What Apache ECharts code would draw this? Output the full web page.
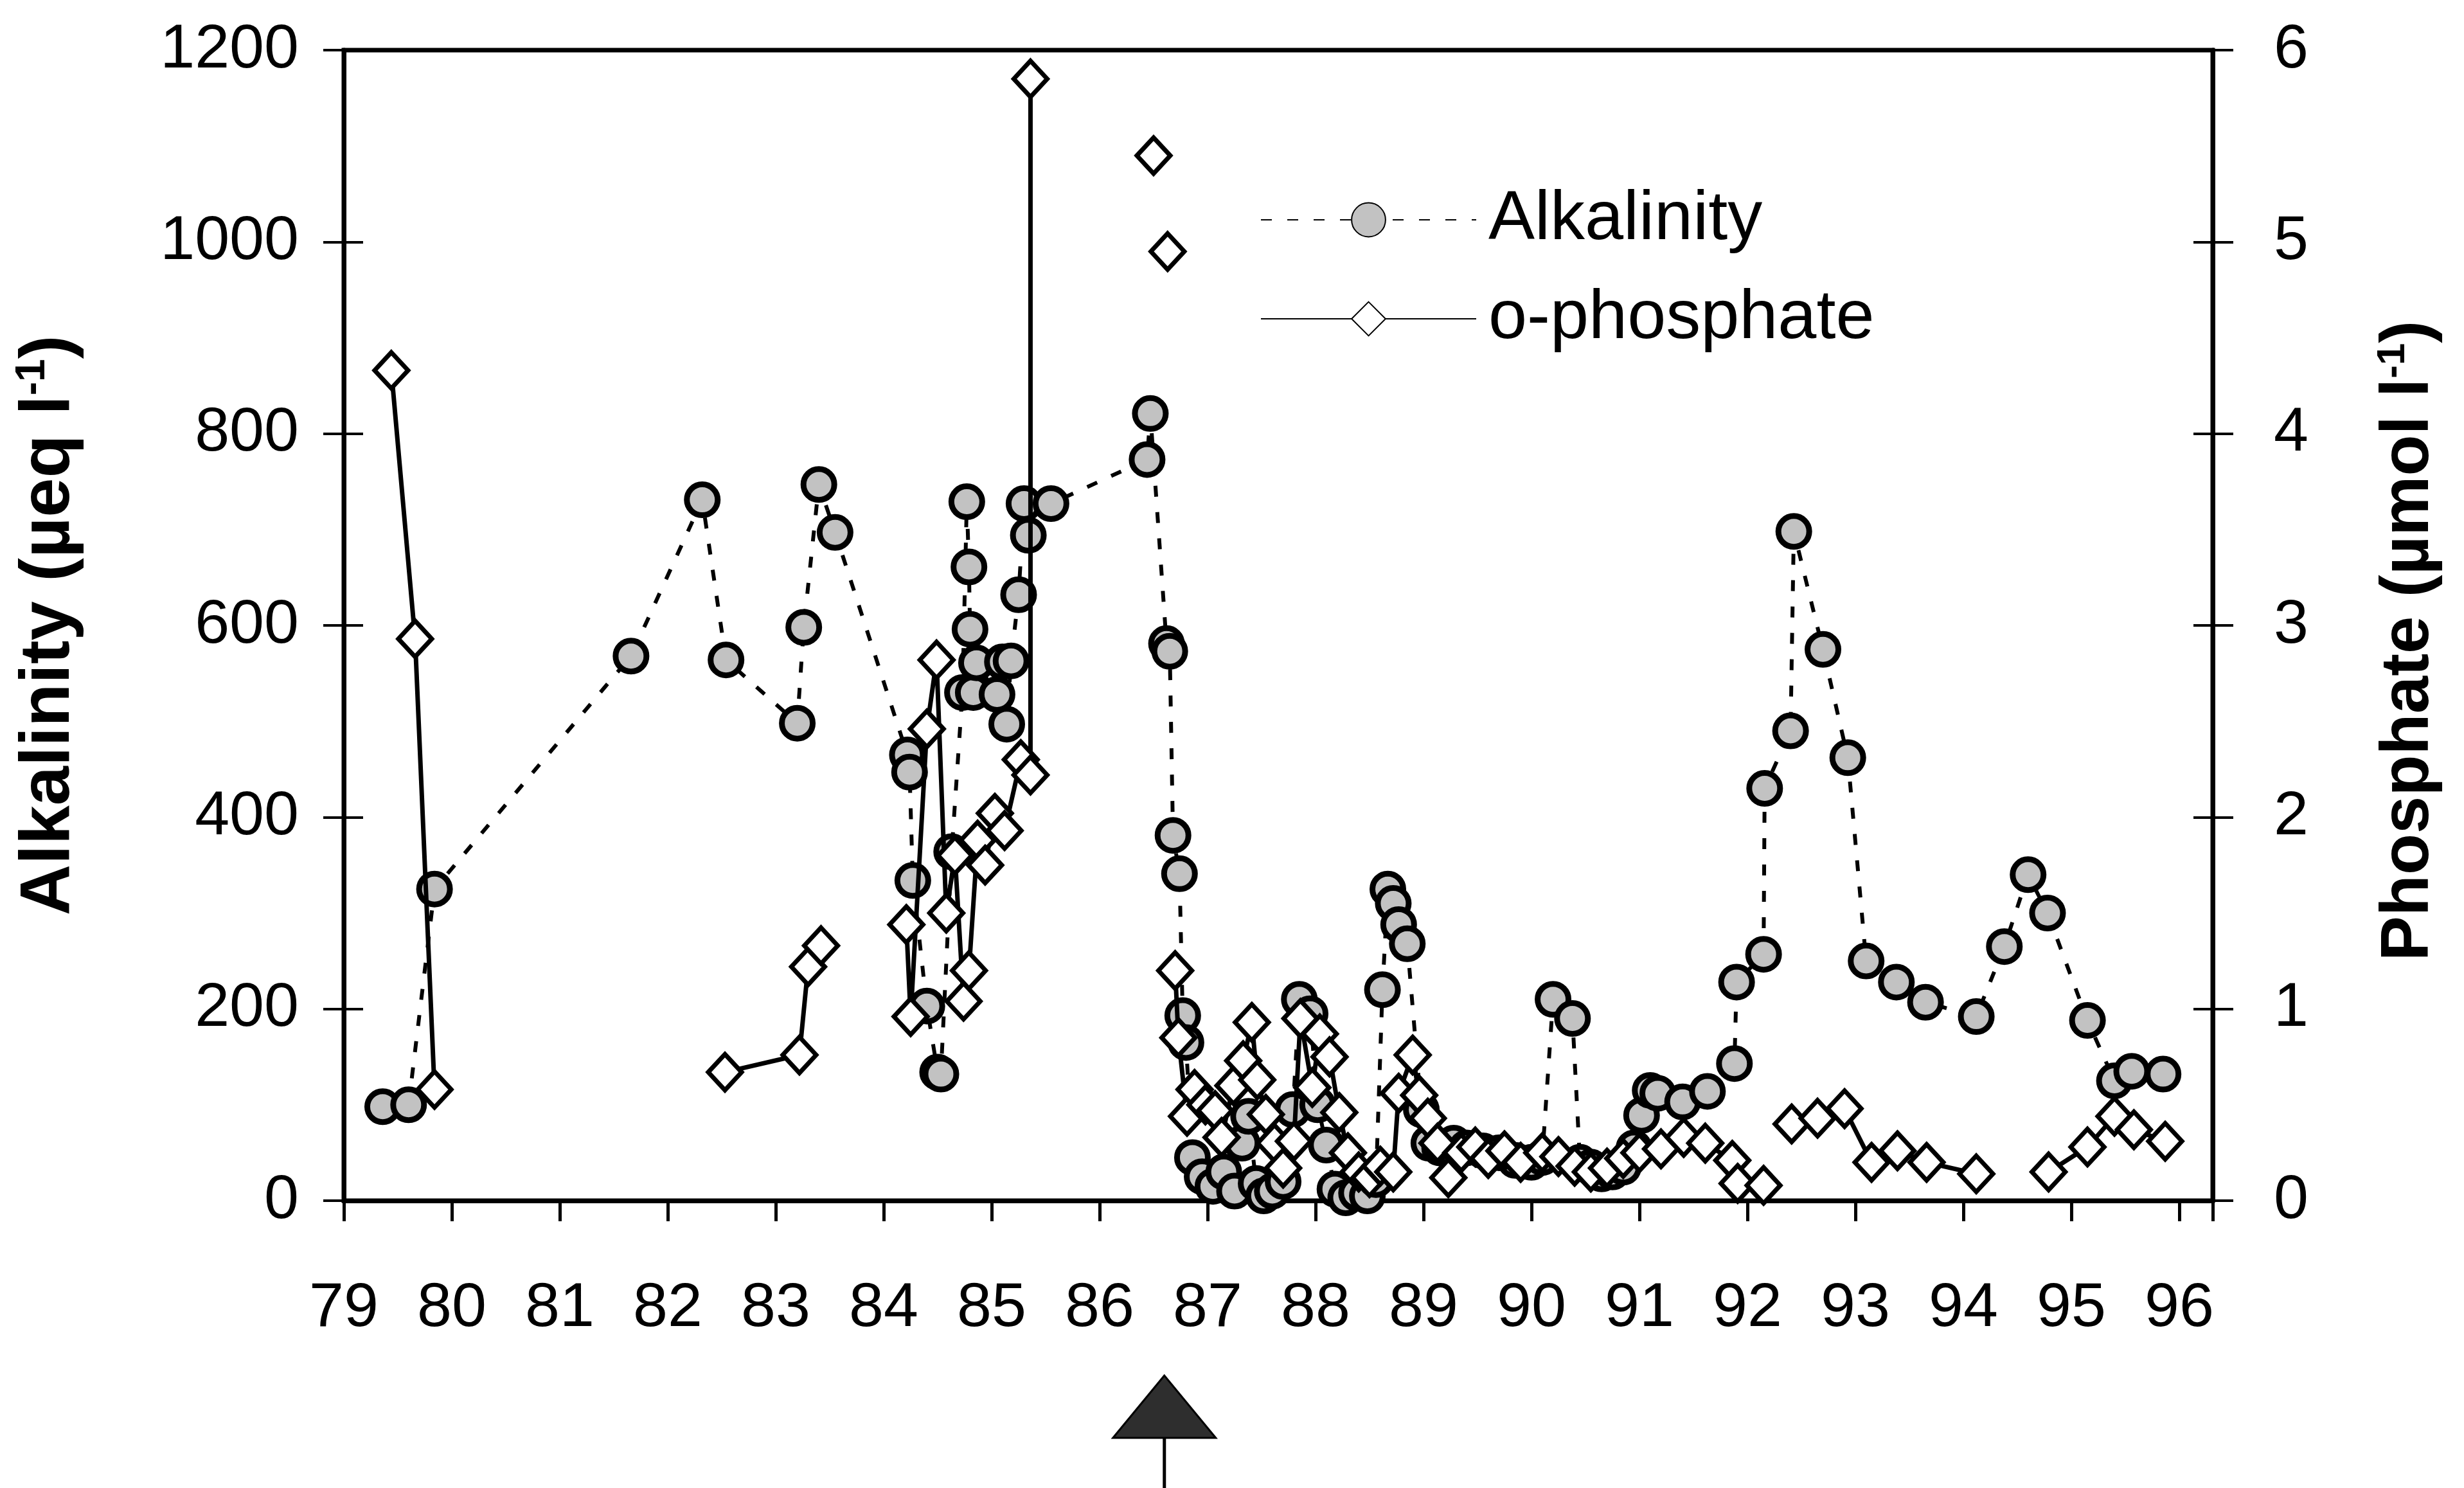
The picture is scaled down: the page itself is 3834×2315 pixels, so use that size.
<!DOCTYPE html>
<html>
<head>
<meta charset="utf-8">
<script src="https://cdn.jsdelivr.net/npm/echarts@6/dist/echarts.min.js"></script>
<style>
html,body{margin:0;padding:0;background:#ffffff;}
#chart{width:3834px;height:2315px;}
</style>
</head>
<body>
<div id="chart"></div>
<script>
// ---- tick labels ----
const xTickLabels = ['79','80','81','82','83','84','85','86','87','88','89','90','91','92','93','94','95','96'];
const leftTickLabels = ['0','200','400','600','800','1000','1200'];
const rightTickLabels = ['0','1','2','3','4','5','6'];
const seriesNames = ['Alkalinity', 'o-phosphate'];

// ---- Alkalinity (µeq l-1) ----
const alkYears = [79.36,79.60,79.84,81.66,82.32,82.54,83.20,83.26,83.40,83.55,
  84.22,84.24,84.27,84.40,84.50,84.53,84.63,84.73,84.77,84.79,
  84.80,84.83,84.86,85.05,85.10,85.14,85.18,85.25,85.30,85.34,
  85.55,86.44,86.47,86.62,86.65,86.68,86.74,86.77,86.80,86.86,
  86.95,87.05,87.15,87.25,87.32,87.38,87.45,87.52,87.60,87.70,
  87.79,87.85,87.95,88.02,88.10,88.18,88.28,88.38,88.48,88.56,
  88.62,88.67,88.72,88.77,88.85,88.98,89.05,89.15,89.28,89.40,
  89.55,89.70,89.85,90.00,90.10,90.20,90.38,90.45,90.55,90.65,
  90.75,90.85,90.95,91.02,91.10,91.17,91.40,91.63,91.88,91.90,
  92.15,92.16,92.40,92.43,92.70,92.93,93.10,93.38,93.65,94.12,
  94.38,94.60,94.78,95.15,95.40,95.56,95.85];
const alkValues = [98,100,325,568,731,564,498,598,747,697,
  465,447,334,203,134,132,364,530,729,661,
  596,530,561,528,562,497,563,632,727,694,
  727,773,821,581,573,381,341,193,165,45,
  25,15,30,10,60,88,18,5,10,20,
  95,210,195,100,58,12,3,8,5,22,
  220,325,310,288,268,95,60,55,60,55,
  52,50,42,40,45,210,190,40,35,28,
  30,35,55,89,115,112,103,114,143,228,
  257,430,490,698,575,462,250,228,207,192,
  265,340,300,188,125,135,132];

// ---- o-phosphate (µmol l-1); null = no connecting line ----
const phosYears = [79.44,79.66,79.84,81.00,82.53,83.22,83.30,83.42,83.80,
  84.21,84.25,84.40,84.49,84.58,84.66,84.74,84.79,84.87,84.94,
  85.03,85.12,85.27,85.36,85.36,86.00,86.50,86.57,86.63,86.66,
  86.70,86.73,86.81,86.88,86.98,87.07,87.13,87.24,87.33,87.41,
  87.46,87.54,87.62,87.70,87.80,87.86,87.97,88.04,88.13,88.22,
  88.30,88.40,88.50,88.60,88.72,88.77,88.90,88.96,89.04,89.13,
  89.23,89.35,89.48,89.60,89.75,89.90,90.10,90.25,90.40,90.55,
  90.70,90.85,91.00,91.20,91.41,91.61,91.86,91.91,92.15,92.30,
  92.41,92.65,92.90,93.15,93.39,93.66,94.12,94.50,
  94.79,95.15,95.40,95.58,95.87];
const phosValues = [4.33,2.93,0.58,null,0.67,0.76,1.22,1.33,null,
  1.44,0.96,2.46,2.82,1.50,1.80,1.04,1.20,1.88,1.75,
  2.02,1.93,2.30,2.22,5.85,null,5.45,null,4.95,null,
  1.20,0.85,0.44,0.58,0.50,0.47,0.33,0.60,0.73,0.93,
  0.63,0.45,0.30,0.17,0.31,0.95,0.59,0.87,0.75,0.46,
  0.25,0.15,0.12,0.18,0.15,0.56,0.76,0.55,0.43,0.30,
  0.12,0.25,0.28,0.22,0.26,0.20,0.25,0.23,0.18,0.15,
  0.17,0.22,0.25,0.27,0.33,0.30,0.21,0.09,0.08,null,
  0.40,0.43,0.48,0.20,0.26,0.20,0.14,null,
  0.15,0.28,0.44,0.37,0.31];

// ---- event marker year (arrow under the axis) ----
const eventYear = 86.6;

const FONT = '"Liberation Sans", Arial, Helvetica, sans-serif';

const alkData = alkYears.map((x, i) => [x, alkValues[i]]);
const phosData = phosYears.map((x, i) => [x, phosValues[i] === null ? '-' : phosValues[i]]);

const chart = echarts.init(document.getElementById('chart'), null, {renderer: 'canvas'});

const axisLineStyle = {color: '#000', width: 7};

const option = {
  animation: false,
  backgroundColor: '#ffffff',
  grid: {left: 535, right: 391, top: 78, bottom: 447, show: true, borderColor: '#000', borderWidth: 7, backgroundColor: 'transparent'},
  legend: {
    data: seriesNames,
    orient: 'vertical',
    left: 1956,
    top: 283,
    itemWidth: 335,
    itemHeight: 66,
    itemGap: 46,
    textStyle: {fontSize: 108, color: '#000', fontFamily: FONT, padding: [0, 0, 0, 14]}
  },
  xAxis: {
    type: 'value',
    min: 79, max: 96.31, interval: 1,
    axisLine: {show: true, lineStyle: axisLineStyle},
    axisTick: {show: true, inside: false, length: 32, lineStyle: {color: '#000', width: 5}},
    axisLabel: {
      fontSize: 97, color: '#000', fontFamily: FONT, margin: 120,
      formatter: v => {
        const k = Math.round(v - 79);
        return (Math.abs(v - 79 - k) < 1e-6 && xTickLabels[k] !== undefined) ? xTickLabels[k] : '';
      }
    },
    splitLine: {show: false}
  },
  yAxis: [
    {
      type: 'value', position: 'left', min: 0, max: 1200, interval: 200,
      axisLine: {show: true, lineStyle: axisLineStyle},
      axisTick: {show: true, inside: false, length: 32, lineStyle: {color: '#000', width: 4}},
      axisLabel: {fontSize: 97, color: '#000', fontFamily: FONT, margin: 70,
        formatter: v => leftTickLabels[Math.round(v / 200)]},
      splitLine: {show: false},
      name: '{t|Alkalinity (µeq l}{s|-1}{t|)}',
      nameLocation: 'middle', nameRotate: 90, nameGap: 400,
      nameTextStyle: {rich: {
        t: {fontSize: 110, fontWeight: 'bold', fontFamily: FONT, color: '#000'},
        s: {fontSize: 64, fontWeight: 'bold', fontFamily: FONT, color: '#000', padding: [0, 0, 52, 0]}
      }}
    },
    {
      type: 'value', position: 'right', min: 0, max: 6, interval: 1,
      axisLine: {show: true, lineStyle: axisLineStyle},
      axisTick: {show: true, inside: false, length: 32, lineStyle: {color: '#000', width: 4}},
      axisLabel: {fontSize: 97, color: '#000', fontFamily: FONT, margin: 95,
        formatter: v => rightTickLabels[Math.round(v)]},
      splitLine: {show: false},
      name: '{t|Phosphate (µmol l}{s|-1}{t|)}',
      nameLocation: 'middle', nameRotate: 90, nameGap: 250,
      nameTextStyle: {padding: [0, 48, 0, 0], rich: {
        t: {fontSize: 105, fontWeight: 'bold', fontFamily: FONT, color: '#000'},
        s: {fontSize: 62, fontWeight: 'bold', fontFamily: FONT, color: '#000', padding: [0, 0, 50, 0]}
      }}
    },
    {
      type: 'value', position: 'left', min: 0, max: 1200, interval: 200,
      axisLine: {show: false},
      axisTick: {show: true, inside: true, length: 30, lineStyle: {color: '#000', width: 4}},
      axisLabel: {show: false}, splitLine: {show: false}
    },
    {
      type: 'value', position: 'right', min: 0, max: 6, interval: 1,
      axisLine: {show: false},
      axisTick: {show: true, inside: true, length: 30, lineStyle: {color: '#000', width: 4}},
      axisLabel: {show: false}, splitLine: {show: false}
    }
  ],
  series: [
    {
      name: seriesNames[0], type: 'line', yAxisIndex: 0, data: alkData,
      symbol: 'circle', symbolSize: 48, showSymbol: true, showAllSymbol: true,
      itemStyle: {color: '#c2c2c2', borderColor: '#000', borderWidth: 9},
      lineStyle: {color: '#000', width: 6, type: [17, 24]},
      z: 2
    },
    {
      name: seriesNames[1], type: 'line', yAxisIndex: 1, data: phosData,
      symbol: 'diamond', symbolSize: [52, 56], showSymbol: true, showAllSymbol: true,
      connectNulls: false,
      itemStyle: {color: '#ffffff', borderColor: '#000', borderWidth: 7},
      lineStyle: {color: '#000', width: 7},
      z: 3
    }
  ]
};

chart.setOption(option);

// event arrow below the time axis, placed through the x scale
const px = chart.convertToPixel({xAxisIndex: 0}, eventYear);
chart.setOption({
  graphic: [
    {type: 'polygon', shape: {points: [[px, 2140], [px - 80, 2237], [px + 80, 2237]]}, style: {fill: '#2e2e2e', stroke: '#000', lineWidth: 3}},
    {type: 'line', shape: {x1: px, y1: 2237, x2: px, y2: 2315}, style: {stroke: '#000', lineWidth: 5}}
  ]
});
</script>
</body>
</html>
